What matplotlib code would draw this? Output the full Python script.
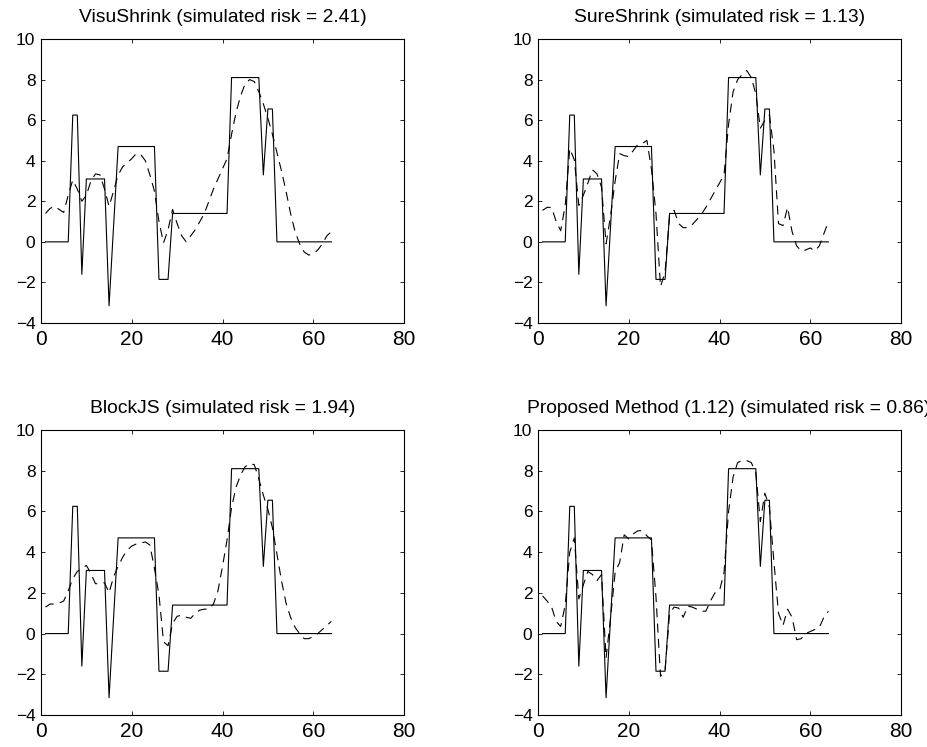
import matplotlib
matplotlib.use("Agg")
import matplotlib.pyplot as plt

#--------------------------------------------------------------------------------------
#Data
n = list(range(1, 65))

blocks = ([0.0]*6 + [6.25]*2 + [-1.6] + [3.1]*5 + [-3.15] + [0.8] + [4.7]*9
          + [-1.85]*3 + [1.4]*13 + [8.1]*7 + [3.3] + [6.55]*2 + [0.0]*13)

visu = [1.4, 1.65, 1.75, 1.6, 1.45, 2.3, 3.05, 2.6, 2.0, 2.3,
        3.0, 3.35, 3.3, 2.6, 1.75, 2.5, 3.3, 3.7, 3.9, 4.1,
        4.35, 4.3, 4.0, 3.3, 2.5, 1.0, -0.05, 0.6, 1.6, 0.9,
        0.3, 0.0, 0.3, 0.6, 1.0, 1.4, 2.0, 2.6, 3.1, 3.6,
        4.1, 5.3, 6.4, 7.2, 7.8, 8.0, 7.9, 7.4, 6.8, 6.1,
        5.3, 4.4, 3.5, 2.5, 1.4, 0.5, -0.1, -0.5, -0.65, -0.6,
        -0.4, -0.1, 0.3, 0.5]

sure = [1.55, 1.7, 1.7, 1.0, 0.55, 1.8, 4.6, 4.05, 1.8, 2.3,
        2.9, 3.55, 3.35, 2.7, -0.1, 1.3, 3.0, 4.35, 4.25, 4.2,
        4.5, 4.8, 4.85, 5.0, 3.6, 1.4, -2.2, -1.5, 1.3, 1.55,
        0.9, 0.7, 0.7, 0.85, 1.1, 1.35, 1.7, 2.1, 2.5, 2.9,
        3.3, 5.8, 7.4, 8.0, 8.25, 8.45, 8.1, 7.3, 5.6, 6.0,
        6.25, 4.5, 0.9, 0.8, 1.7, 0.5, -0.2, -0.45, -0.4, -0.3,
        -0.45, -0.2, 0.4, 1.0]

blockjs = [1.3, 1.45, 1.45, 1.5, 1.6, 2.1, 2.7, 3.05, 3.2, 3.35,
           2.95, 2.45, 2.45, 2.5, 2.0, 2.8, 3.3, 3.75, 4.1, 4.3,
           4.4, 4.45, 4.5, 4.35, 3.2, 1.9, -0.4, -0.6, 0.5, 0.85,
           0.9, 0.8, 0.75, 1.0, 1.15, 1.2, 1.2, 1.45, 2.1, 3.3,
           4.6, 6.2, 7.2, 7.8, 8.2, 8.35, 8.3, 7.6, 6.8, 6.1,
           5.2, 3.9, 2.6, 1.5, 0.8, 0.3, 0.0, -0.25, -0.25, -0.15,
           0.0, 0.2, 0.4, 0.6]

proposed = [1.85, 1.6, 1.3, 0.6, 0.35, 1.4, 4.0, 4.7, 1.7, 2.4,
            3.05, 2.9, 2.6, 2.9, -1.2, 0.8, 3.0, 3.5, 4.85, 4.65,
            4.9, 5.05, 5.05, 4.8, 4.6, 1.8, -2.1, -1.8, 1.0, 1.3,
            1.25, 0.8, 1.35, 1.3, 1.2, 1.1, 1.1, 1.6, 2.0, 2.1,
            3.0, 6.0, 7.7, 8.4, 8.5, 8.5, 8.4, 7.9, 5.5, 6.9,
            6.2, 3.5, 1.0, 0.4, 1.2, 0.8, -0.3, -0.25, 0.0, 0.1,
            0.2, 0.3, 0.8, 1.1]

titles = ["VisuShrink (simulated risk = 2.41)",
          "SureShrink (simulated risk = 1.13)",
          "BlockJS (simulated risk = 1.94)",
          "Proposed Method (1.12) (simulated risk = 0.86)"]
estimates = [visu, sure, blockjs, proposed]

xticks = [0, 20, 40, 60, 80]
yticks = [-4, -2, 0, 2, 4, 6, 8, 10]

#--------------------------------------------------------------------------------------
#Plot
plt.rcParams['font.family'] = ['Liberation Sans', 'DejaVu Sans']
plt.rcParams['lines.scale_dashes'] = False

fig = plt.figure(figsize=(9.27, 7.47), dpi=100)

W, H = 927.0, 747.0
# axes boxes in pixels: left, top, right, bottom
boxes = [(41, 39, 404, 323), (538, 39, 901, 323),
         (41, 430, 404, 715), (538, 430, 901, 715)]
# title centre along each axes (the long last one sits a little right)
title_x = [0.5, 0.5, 0.5, 0.525]

for i in range(4):
    l, t, r, b = boxes[i]
    ax = fig.add_axes([l/W, 1 - b/H, (r - l)/W, (b - t)/H])
    ax.plot(n, blocks, color="k", lw=0.8)
    ax.plot(n, estimates[i], color="k", lw=0.8, dashes=(6.5, 4.5))
    ax.set_xlim(0, 80)
    ax.set_ylim(-4, 10)
    ax.set_xticks(xticks)
    ax.set_yticks(yticks)
    ax.tick_params(direction="in", length=3, width=0.6,
                   top=True, right=True)
    ax.tick_params(axis="y", labelsize=12.5, pad=4)
    ax.tick_params(axis="x", labelsize=15, pad=5)
    for s in ax.spines.values():
        s.set_linewidth(0.8)
    ax.set_title(titles[i], fontsize=13.9, pad=12, x=title_x[i])

plt.savefig("out.png", dpi=100)
plt.close()
